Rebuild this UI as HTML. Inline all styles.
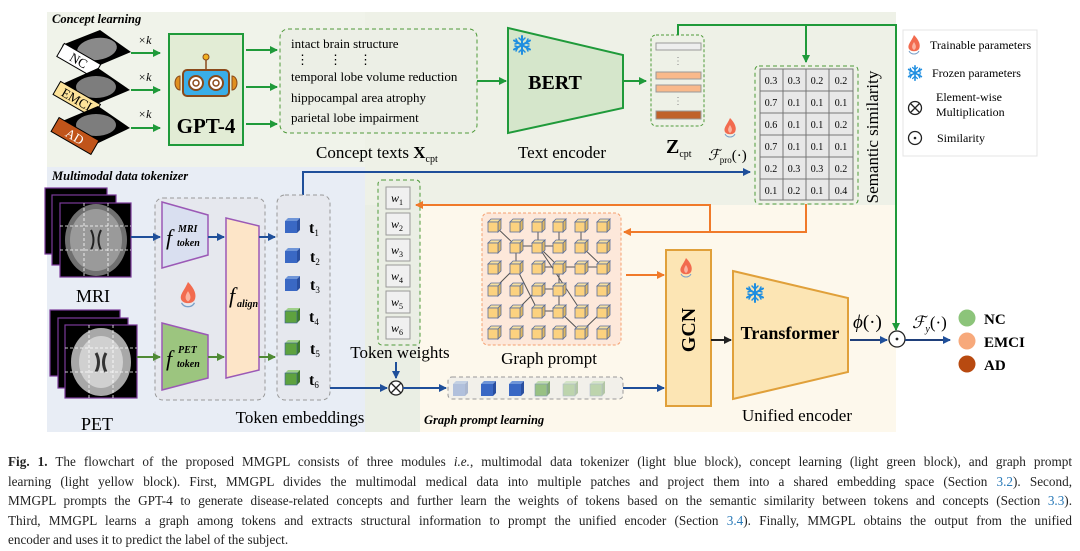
<!DOCTYPE html>
<html><head><meta charset="utf-8"><style>
body{margin:0;background:#fff;width:1080px;height:551px;overflow:hidden}
svg{position:absolute;left:0;top:0}
.cap{position:absolute;left:8px;width:1064px;top:452px;font-family:"Liberation Serif",serif;font-size:13.2px;line-height:19.5px;color:#222}
.cap div{text-align:justify;text-align-last:justify;white-space:nowrap}
.cap div.l{text-align-last:left}
.cap a{color:#2a7ab8}
</style></head><body>
<svg width="1080" height="451" viewBox="0 0 1080 451" font-family="Liberation Serif, serif">
<defs>
<marker id="ag" markerWidth="8" markerHeight="8" refX="7" refY="4" orient="auto" markerUnits="userSpaceOnUse"><path d="M0,0 L8,4 L0,8z" fill="#1f9a3a"/></marker>
<marker id="ab" markerWidth="8" markerHeight="8" refX="7" refY="4" orient="auto" markerUnits="userSpaceOnUse"><path d="M0,0 L8,4 L0,8z" fill="#1f4f9a"/></marker>
<marker id="agr" markerWidth="8" markerHeight="8" refX="7" refY="4" orient="auto" markerUnits="userSpaceOnUse"><path d="M0,0 L8,4 L0,8z" fill="#4f8a35"/></marker>
<marker id="ao" markerWidth="8" markerHeight="8" refX="7" refY="4" orient="auto" markerUnits="userSpaceOnUse"><path d="M0,0 L8,4 L0,8z" fill="#f07a2a"/></marker>
<marker id="ak" markerWidth="8" markerHeight="8" refX="7" refY="4" orient="auto" markerUnits="userSpaceOnUse"><path d="M0,0 L8,4 L0,8z" fill="#222"/></marker>
<g id="cy"><path d="M0,3 L3,0 L13,0 L10,3z" fill="#f7e0a0" stroke="#5a6e9a" stroke-width="0.8"/><path d="M10,3 L13,0 L13,10 L10,13z" fill="#e0b860" stroke="#5a6e9a" stroke-width="0.8"/><rect x="0" y="3" width="10" height="10" fill="#fcd27f" stroke="#5a6e9a" stroke-width="0.8"/></g>
<g id="cb"><path d="M0,3 L3,0 L15,0 L12,3z" fill="#6f95d8"/><path d="M12,3 L15,0 L15,12 L12,15z" fill="#2a4fa0"/><rect x="0" y="3" width="12" height="12" fill="#3a68c4"/></g>
<g id="cgn"><path d="M0,3 L3,0 L15,0 L12,3z" fill="#9fd08a"/><path d="M12,3 L15,0 L15,12 L12,15z" fill="#3d7a2a"/><rect x="0" y="3" width="12" height="12" fill="#5ea23f" stroke="#3a5f9a" stroke-width="0.6"/></g>
<g id="flame"><path d="M0,-10 C5,-5 7,0 5,4 C3,7 -3,7 -5,4 C-7,0 -3,-3 0,-10z" fill="#f26b4f"/><path d="M0,-3 C2,0 3,3 0,5 C-3,3 -2,0 0,-3z" fill="#fbb3a0"/><path d="M-5,6 C-3,10 3,10 5,6" fill="none" stroke="#7aa0c8" stroke-width="1"/></g>
<g id="snow" stroke="#1f8ee0" stroke-width="2" stroke-linecap="round"><path d="M0,-9 V9 M-8,-4.5 L8,4.5 M-8,4.5 L8,-4.5"/><path d="M-3,-7 L0,-4 L3,-7 M-3,7 L0,4 L3,7 M-7,-1 L-4,-2 L-6,-6 M7,1 L4,2 L6,6 M-7,1 L-4,2 L-6,6 M7,-1 L4,-2 L6,-6" stroke-width="1.5" fill="none"/></g>
</defs>
<rect x="47" y="12" width="849" height="155" fill="#eef1e7"/>
<rect x="47" y="12" width="318" height="155" fill="#f0f3ea"/>
<rect x="47" y="167" width="318" height="265" fill="#e8edf5"/>
<rect x="365" y="167" width="531" height="38" fill="#eef1e7"/>
<rect x="365" y="205" width="55" height="227" fill="#eaeee4"/>
<rect x="420" y="205" width="476" height="227" fill="#fdf8ec"/>
<text x="52" y="23" font-size="12.5" font-weight="bold" font-style="italic">Concept learning</text>
<text x="52" y="180" font-size="12.5" font-weight="bold" font-style="italic">Multimodal data tokenizer</text>
<text x="424" y="424" font-size="12.5" font-weight="bold" font-style="italic">Graph prompt learning</text>

<g>
<polygon points="62,45 100,30 131,52 93,68" fill="#000"/><ellipse cx="97" cy="49" rx="20" ry="11" fill="#8a8a8a" transform="rotate(-8 97 49)"/>
<rect x="58" y="53" width="42" height="15" fill="#fff" stroke="#000" transform="rotate(30 79 60)"/><text x="79" y="65" font-size="13" text-anchor="middle" transform="rotate(30 79 60)">NC</text>
<polygon points="60,85 98,68 130,90 92,106" fill="#000"/><ellipse cx="96" cy="87" rx="20" ry="11" fill="#7d7d7d"/>
<rect x="54" y="92" width="46" height="15" fill="#fde39a" stroke="#000" transform="rotate(30 77 99)"/><text x="77" y="104" font-size="13" text-anchor="middle" transform="rotate(30 77 99)">EMCI</text>
<polygon points="60,122 98,106 130,128 92,146" fill="#000"/><ellipse cx="96" cy="125" rx="20" ry="11" fill="#7d7d7d"/>
<rect x="52" y="128" width="46" height="16" fill="#c0541a" stroke="#000" transform="rotate(30 75 136)"/><text x="75" y="141" font-size="13" fill="#fff" text-anchor="middle" transform="rotate(30 75 136)">AD</text>
</g>
<g font-size="12" font-style="italic"><text x="138" y="44">×k</text><text x="138" y="81">×k</text><text x="138" y="118">×k</text></g>
<g stroke="#1f9a3a" stroke-width="2" marker-end="url(#ag)"><path d="M131,53 H160"/><path d="M131,90 H160"/><path d="M131,128 H160"/></g>
<rect x="169" y="34" width="74" height="111" fill="#e2ecd5" stroke="#1f9a3a" stroke-width="2"/>
<line x1="206" y1="58" x2="206" y2="70" stroke="#8a4a1a" stroke-width="1.5"/><circle cx="206" cy="57" r="3" fill="#f0b020" stroke="#8a4a1a"/>
<path d="M180,76 a5,7 0 0 0 0,14z M232,76 a5,7 0 0 1 0,14z" fill="#e09020" stroke="#8a4a1a"/>
<rect x="183" y="70" width="46" height="26" rx="4" fill="#3aaee8" stroke="#8a4a1a" stroke-width="2"/>
<circle cx="196" cy="83" r="7" fill="#fff" stroke="#8a4a1a" stroke-width="2"/><circle cx="216" cy="83" r="7" fill="#fff" stroke="#8a4a1a" stroke-width="2"/>
<circle cx="196" cy="83" r="3" fill="none" stroke="#8a4a1a" stroke-width="1.5"/><circle cx="216" cy="83" r="3" fill="none" stroke="#8a4a1a" stroke-width="1.5"/>
<text x="206" y="133" font-size="21" font-weight="bold" text-anchor="middle">GPT-4</text>
<g stroke="#1f9a3a" stroke-width="2" marker-end="url(#ag)"><path d="M246,50 H277"/><path d="M246,87 H277"/><path d="M246,124 H277"/></g>
<rect x="280" y="29" width="197" height="104" rx="8" fill="#ecefe6" stroke="#4f9a3a" stroke-dasharray="4,3"/>
<g font-size="13"><text x="291" y="48">intact  brain structure</text><text x="296" y="64">⋮</text><text x="329" y="64">⋮</text><text x="359" y="64">⋮</text>
<text x="291" y="81">temporal lobe volume reduction</text><text x="291" y="102">hippocampal area atrophy</text><text x="291" y="122">parietal lobe impairment</text></g>
<text x="316" y="158" font-size="17">Concept texts <tspan font-weight="bold">X</tspan><tspan font-size="10" dy="4">cpt</tspan></text>
<path d="M477,81 H506" stroke="#1f9a3a" stroke-width="2" marker-end="url(#ag)"/>
<polygon points="508,28 623,55 623,108 508,133" fill="#d5e6cb" stroke="#1f9a3a" stroke-width="2"/>
<use href="#snow" x="522" y="45"/>
<text x="555" y="89" font-size="20" font-weight="bold" text-anchor="middle">BERT</text>
<text x="562" y="158" font-size="17" text-anchor="middle">Text encoder</text>
<path d="M623,81 H646" stroke="#1f9a3a" stroke-width="2" marker-end="url(#ag)"/>
<rect x="651" y="35" width="53" height="91" rx="5" fill="#eef1e7" stroke="#4f9a3a" stroke-dasharray="3,2"/>
<rect x="656" y="43" width="45" height="7" fill="#eee" stroke="#999"/>
<rect x="656" y="72" width="45" height="7" fill="#f9b98b" stroke="#999"/>
<rect x="656" y="85" width="45" height="7" fill="#f9b98b" stroke="#999"/>
<rect x="656" y="111" width="45" height="8" fill="#c0612a" stroke="#999"/>
<text x="678" y="64" font-size="10" text-anchor="middle" fill="#888">⋮</text><text x="678" y="104" font-size="10" text-anchor="middle" fill="#888">⋮</text>
<text x="666" y="153" font-size="20" font-weight="bold">Z<tspan font-size="10" font-weight="normal" dy="4">cpt</tspan></text>
<path d="M678,35 V25 H896 V330" fill="none" stroke="#1f9a3a" stroke-width="2" marker-end="url(#ag)"/>
<path d="M806,25 V62" fill="none" stroke="#1f9a3a" stroke-width="2" marker-end="url(#ag)"/>
<rect x="755" y="66" width="103" height="138" rx="4" fill="#eef1e7" stroke="#4f9a3a" stroke-dasharray="4,3"/>
<rect x="760" y="69" width="93" height="131" fill="#e8e8e8" stroke="#777"/>
<g stroke="#777"><line x1="783" y1="69" x2="783" y2="200"/><line x1="806" y1="69" x2="806" y2="200"/><line x1="829" y1="69" x2="829" y2="200"/>
<line x1="760" y1="91" x2="853" y2="91"/><line x1="760" y1="113" x2="853" y2="113"/><line x1="760" y1="135" x2="853" y2="135"/><line x1="760" y1="157" x2="853" y2="157"/><line x1="760" y1="179" x2="853" y2="179"/></g>
<g font-size="10" text-anchor="middle">
<text x="771" y="84">0.3</text><text x="794" y="84">0.3</text><text x="817" y="84">0.2</text><text x="841" y="84">0.2</text>
<text x="771" y="106">0.7</text><text x="794" y="106">0.1</text><text x="817" y="106">0.1</text><text x="841" y="106">0.1</text>
<text x="771" y="128">0.6</text><text x="794" y="128">0.1</text><text x="817" y="128">0.1</text><text x="841" y="128">0.2</text>
<text x="771" y="150">0.7</text><text x="794" y="150">0.1</text><text x="817" y="150">0.1</text><text x="841" y="150">0.1</text>
<text x="771" y="172">0.2</text><text x="794" y="172">0.3</text><text x="817" y="172">0.3</text><text x="841" y="172">0.2</text>
<text x="771" y="194">0.1</text><text x="794" y="194">0.2</text><text x="817" y="194">0.1</text><text x="841" y="194">0.4</text></g>
<text x="0" y="0" font-size="17" text-anchor="middle" transform="translate(878,137) rotate(-90)">Semantic similarity</text>
<use href="#flame" x="730" y="128"/>
<text x="708" y="160" font-size="15" font-style="italic">ℱ<tspan font-size="9" font-style="normal" dy="3">pro</tspan><tspan font-style="normal" dy="-3">(·)</tspan></text>
<path d="M303,195 V172 H750" fill="none" stroke="#1f4f9a" stroke-width="2" marker-end="url(#ab)"/>
<rect x="903" y="30" width="134" height="126" fill="#fff" stroke="#e4e4e4"/>
<use href="#flame" x="914" y="45"/><text x="930" y="49" font-size="12">Trainable parameters</text>
<use href="#snow" x="915" y="73" transform="translate(915 73) scale(0.8) translate(-915 -73)"/><text x="932" y="77" font-size="12">Frozen parameters</text>
<circle cx="915" cy="108" r="6.5" fill="none" stroke="#222" stroke-width="1.3"/><path d="M910.5,103.5 L919.5,112.5 M919.5,103.5 L910.5,112.5" stroke="#222" stroke-width="1.3"/>
<text x="936" y="101" font-size="12">Element-wise</text><text x="936" y="116" font-size="12">Multiplication</text>
<circle cx="915" cy="138" r="6.5" fill="none" stroke="#222" stroke-width="1.3"/><circle cx="915" cy="138" r="1.3" fill="#222"/>
<text x="937" y="142" font-size="12">Similarity</text>

<g stroke="#7a3a9a" stroke-width="1.2">
<rect x="45" y="188" width="62" height="66" fill="#000"/><rect x="52" y="195" width="64" height="70" fill="#000"/><rect x="60" y="203" width="71" height="74" fill="#000"/></g>
<ellipse cx="96" cy="240" rx="31" ry="36" fill="#707070"/><ellipse cx="96" cy="240" rx="26" ry="31" fill="#9a9a9a"/>
<path d="M91,230 q5,10 0,20 M101,230 q-5,10 0,20" stroke="#222" stroke-width="2" fill="none"/>
<g stroke="#fff" stroke-dasharray="3,2" stroke-width="0.8"><line x1="60" y1="226" x2="131" y2="226"/><line x1="60" y1="250" x2="131" y2="250"/><line x1="84" y1="203" x2="84" y2="277"/><line x1="108" y1="203" x2="108" y2="277"/></g>
<text x="93" y="302" font-size="18" text-anchor="middle">MRI</text>
<g stroke="#7a3a9a" stroke-width="1.2">
<rect x="50" y="310" width="70" height="66" fill="#000"/><rect x="58" y="318" width="70" height="70" fill="#000"/><rect x="65" y="325" width="72" height="73" fill="#000"/></g>
<ellipse cx="101" cy="362" rx="30" ry="34" fill="#a8a8a8"/><ellipse cx="101" cy="362" rx="22" ry="26" fill="#d0d0d0"/>
<path d="M96,353 q5,9 0,19 M106,353 q-5,9 0,19" stroke="#333" stroke-width="3" fill="none"/>
<g stroke="#fff" stroke-dasharray="3,2" stroke-width="0.8"><line x1="65" y1="348" x2="137" y2="348"/><line x1="65" y1="372" x2="137" y2="372"/><line x1="89" y1="325" x2="89" y2="398"/><line x1="113" y1="325" x2="113" y2="398"/></g>
<text x="97" y="430" font-size="18" text-anchor="middle">PET</text>
<rect x="155" y="198" width="110" height="202" rx="8" fill="#e6e8ee" stroke="#999" stroke-dasharray="4,3"/>
<polygon points="162,202 208,215 208,255 162,268" fill="#d9dff0" stroke="#9b59b6" stroke-width="1.5"/>
<polygon points="162,323 208,335 208,378 162,390" fill="#9cc57f" stroke="#9b59b6" stroke-width="1.5"/>
<polygon points="226,218 259,226 259,370 226,378" fill="#fde5c8" stroke="#9b59b6" stroke-width="1.5"/>
<text x="166" y="245" font-size="22" font-style="italic">f</text><text x="178" y="232" font-size="10" font-style="italic" font-weight="bold">MRI</text><text x="177" y="246" font-size="10" font-style="italic" font-weight="bold">token</text>
<text x="166" y="366" font-size="22" font-style="italic">f</text><text x="178" y="353" font-size="10" font-style="italic" font-weight="bold">PET</text><text x="177" y="367" font-size="10" font-style="italic" font-weight="bold">token</text>
<text x="229" y="303" font-size="22" font-style="italic">f</text><text x="237" y="307" font-size="10" font-style="italic" font-weight="bold">align</text>
<use href="#flame" x="188" y="295" transform="translate(188 295) scale(1.3) translate(-188 -295)"/>
<g stroke-width="2" fill="none"><path d="M131,237 H160" stroke="#1f4f9a" marker-end="url(#ab)"/><path d="M208,237 H224" stroke="#1f4f9a" marker-end="url(#ab)"/><path d="M259,237 H275" stroke="#1f4f9a" marker-end="url(#ab)"/>
<path d="M137,357 H160" stroke="#4f8a35" marker-end="url(#agr)"/><path d="M208,357 H224" stroke="#4f8a35" marker-end="url(#agr)"/><path d="M259,357 H275" stroke="#4f8a35" marker-end="url(#agr)"/></g>
<rect x="277" y="195" width="53" height="205" rx="8" fill="#e6e8ee" stroke="#999" stroke-dasharray="4,3"/>
<use href="#cb" x="285" y="218"/><use href="#cb" x="285" y="248"/><use href="#cb" x="285" y="276"/><use href="#cgn" x="285" y="308"/><use href="#cgn" x="285" y="340"/><use href="#cgn" x="285" y="370"/>
<g font-size="16" font-weight="bold"><text x="309" y="233">t<tspan font-size="9" font-weight="normal" dy="3">1</tspan></text><text x="310" y="262">t<tspan font-size="9" font-weight="normal" dy="3">2</tspan></text><text x="310" y="290">t<tspan font-size="9" font-weight="normal" dy="3">3</tspan></text><text x="309" y="322">t<tspan font-size="9" font-weight="normal" dy="3">4</tspan></text><text x="310" y="354">t<tspan font-size="9" font-weight="normal" dy="3">5</tspan></text><text x="309" y="385">t<tspan font-size="9" font-weight="normal" dy="3">6</tspan></text></g>
<text x="300" y="423" font-size="17" text-anchor="middle">Token embeddings</text>
<rect x="378" y="180" width="42" height="165" rx="4" fill="#eaeee4" stroke="#4f9a3a" stroke-dasharray="4,3"/>
<g fill="#f0f0f0" stroke="#999"><rect x="386" y="187" width="24" height="22"/><rect x="386" y="213" width="24" height="22"/><rect x="386" y="239" width="24" height="22"/><rect x="386" y="265" width="24" height="22"/><rect x="386" y="291" width="24" height="22"/><rect x="386" y="317" width="24" height="22"/></g>
<g font-size="12" font-style="italic"><text x="391" y="202">w<tspan font-size="8" font-style="normal" dy="3">1</tspan></text><text x="391" y="228">w<tspan font-size="8" font-style="normal" dy="3">2</tspan></text><text x="391" y="254">w<tspan font-size="8" font-style="normal" dy="3">3</tspan></text><text x="391" y="280">w<tspan font-size="8" font-style="normal" dy="3">4</tspan></text><text x="391" y="306">w<tspan font-size="8" font-style="normal" dy="3">5</tspan></text><text x="391" y="332">w<tspan font-size="8" font-style="normal" dy="3">6</tspan></text></g>
<text x="400" y="358" font-size="17" text-anchor="middle">Token weights</text>
<path d="M396,362 V378" stroke="#1f4f9a" stroke-width="2" marker-end="url(#ab)"/>
<circle cx="396" cy="388" r="7" fill="#fff" stroke="#222" stroke-width="1.3"/><path d="M391,383 L401,393 M401,383 L391,393" stroke="#222" stroke-width="1.3"/>
<path d="M330,388 H387" stroke="#1f4f9a" stroke-width="2" marker-end="url(#ab)"/>
<path d="M403,388 H446" stroke="#1f4f9a" stroke-width="2" marker-end="url(#ab)"/>
<rect x="448" y="377" width="175" height="22" rx="4" fill="#f2f0ea" stroke="#999" stroke-dasharray="4,3"/>
<use href="#cb" x="453" y="381" opacity="0.35"/><use href="#cb" x="481" y="381"/><use href="#cb" x="509" y="381"/><use href="#cgn" x="535" y="381" opacity="0.6"/><use href="#cgn" x="563" y="381" opacity="0.35"/><use href="#cgn" x="590" y="381" opacity="0.35"/>
<path d="M623,388 H664" stroke="#1f4f9a" stroke-width="2" marker-end="url(#ab)"/>
<rect x="482" y="213" width="139" height="132" rx="6" fill="#fde8da" stroke="#f5a070" stroke-dasharray="3,2"/>
<g stroke="#555" stroke-width="1" fill="none"><path d="M494,225 L516,246 L538,246 L559,246 M516,246 L516,267 L538,311 M538,225 L538,246 L559,267 L581,267 L603,267 M559,225 L559,246 M581,246 L603,267 M516,267 L494,289 M538,267 L581,267 M559,267 L559,289 L538,289 L516,311 M559,289 L559,311 L581,332 L603,311 M581,225 L581,246 M538,311 L559,311 M538,246 L581,311"/></g>
<g>
<use href="#cy" x="488" y="219"/><use href="#cy" x="510" y="219"/><use href="#cy" x="532" y="219"/><use href="#cy" x="553" y="219"/><use href="#cy" x="575" y="219"/><use href="#cy" x="597" y="219"/>
<use href="#cy" x="488" y="240"/><use href="#cy" x="510" y="240"/><use href="#cy" x="532" y="240"/><use href="#cy" x="553" y="240"/><use href="#cy" x="575" y="240"/><use href="#cy" x="597" y="240"/>
<use href="#cy" x="488" y="261"/><use href="#cy" x="510" y="261"/><use href="#cy" x="532" y="261"/><use href="#cy" x="553" y="261"/><use href="#cy" x="575" y="261"/><use href="#cy" x="597" y="261"/>
<use href="#cy" x="488" y="283"/><use href="#cy" x="510" y="283"/><use href="#cy" x="532" y="283"/><use href="#cy" x="553" y="283"/><use href="#cy" x="575" y="283"/><use href="#cy" x="597" y="283"/>
<use href="#cy" x="488" y="305"/><use href="#cy" x="510" y="305"/><use href="#cy" x="532" y="305"/><use href="#cy" x="553" y="305"/><use href="#cy" x="575" y="305"/><use href="#cy" x="597" y="305"/>
<use href="#cy" x="488" y="326"/><use href="#cy" x="510" y="326"/><use href="#cy" x="532" y="326"/><use href="#cy" x="553" y="326"/><use href="#cy" x="575" y="326"/><use href="#cy" x="597" y="326"/>
</g>
<text x="549" y="364" font-size="17" text-anchor="middle">Graph prompt</text>
<path d="M806,204 V232 H624" fill="none" stroke="#f07a2a" stroke-width="2" marker-end="url(#ao)"/>
<path d="M710,232 V205 H416" fill="none" stroke="#f07a2a" stroke-width="2" marker-end="url(#ao)"/>
<path d="M626,275 H664" stroke="#f07a2a" stroke-width="2" marker-end="url(#ao)"/>
<rect x="666" y="250" width="45" height="156" fill="#fce5b4" stroke="#e0a03a" stroke-width="2"/>
<use href="#flame" x="686" y="268"/>
<text x="0" y="0" font-size="20" font-weight="bold" text-anchor="middle" transform="translate(695,330) rotate(-90)">GCN</text>
<path d="M711,340 H731" stroke="#222" stroke-width="2" marker-end="url(#ak)"/>
<polygon points="733,271 848,298 848,372 733,399" fill="#fce5b4" stroke="#e0a03a" stroke-width="2"/>
<use href="#snow" x="755" y="293"/>
<text x="790" y="339" font-size="18" font-weight="bold" text-anchor="middle">Transformer</text>
<text x="797" y="421" font-size="17" text-anchor="middle">Unified encoder</text>
<text x="853" y="328" font-size="19" font-style="italic">ϕ<tspan font-style="normal">(·)</tspan></text>
<path d="M850,340 H887" stroke="#1f3f7a" stroke-width="2" marker-end="url(#ab)"/>
<circle cx="897" cy="339" r="8" fill="#fff" stroke="#222" stroke-width="1.3"/><circle cx="897" cy="339" r="1.4" fill="#222"/>
<text x="912" y="328" font-size="17" font-style="italic">ℱ<tspan font-size="10" dy="4">y</tspan><tspan font-style="normal" dy="-4">(·)</tspan></text>
<path d="M905,340 H950" stroke="#1f3f7a" stroke-width="2" marker-end="url(#ab)"/>
<circle cx="967" cy="318" r="8.5" fill="#8cc47a"/><circle cx="967" cy="341" r="8.5" fill="#f7a97b"/><circle cx="967" cy="364" r="8.5" fill="#b84a10"/>
<g font-size="15" font-weight="bold"><text x="984" y="324">NC</text><text x="984" y="347">EMCI</text><text x="984" y="370">AD</text></g>
</svg>
<div class="cap">
<div><b>Fig. 1.</b> The flowchart of the proposed MMGPL consists of three modules <i>i.e.</i>, multimodal data tokenizer (light blue block), concept learning (light green block), and graph prompt</div>
<div>learning (light yellow block). First, MMGPL divides the multimodal medical data into multiple patches and project them into a shared embedding space (Section <a>3.2</a>). Second,</div>
<div>MMGPL prompts the GPT-4 to generate disease-related concepts and further learn the weights of tokens based on the semantic similarity between tokens and concepts (Section <a>3.3</a>).</div>
<div>Third, MMGPL learns a graph among tokens and extracts structural information to prompt the unified encoder (Section <a>3.4</a>). Finally, MMGPL obtains the output from the unified</div>
<div class="l">encoder and uses it to predict the label of the subject.</div>
</div>
</body></html>
